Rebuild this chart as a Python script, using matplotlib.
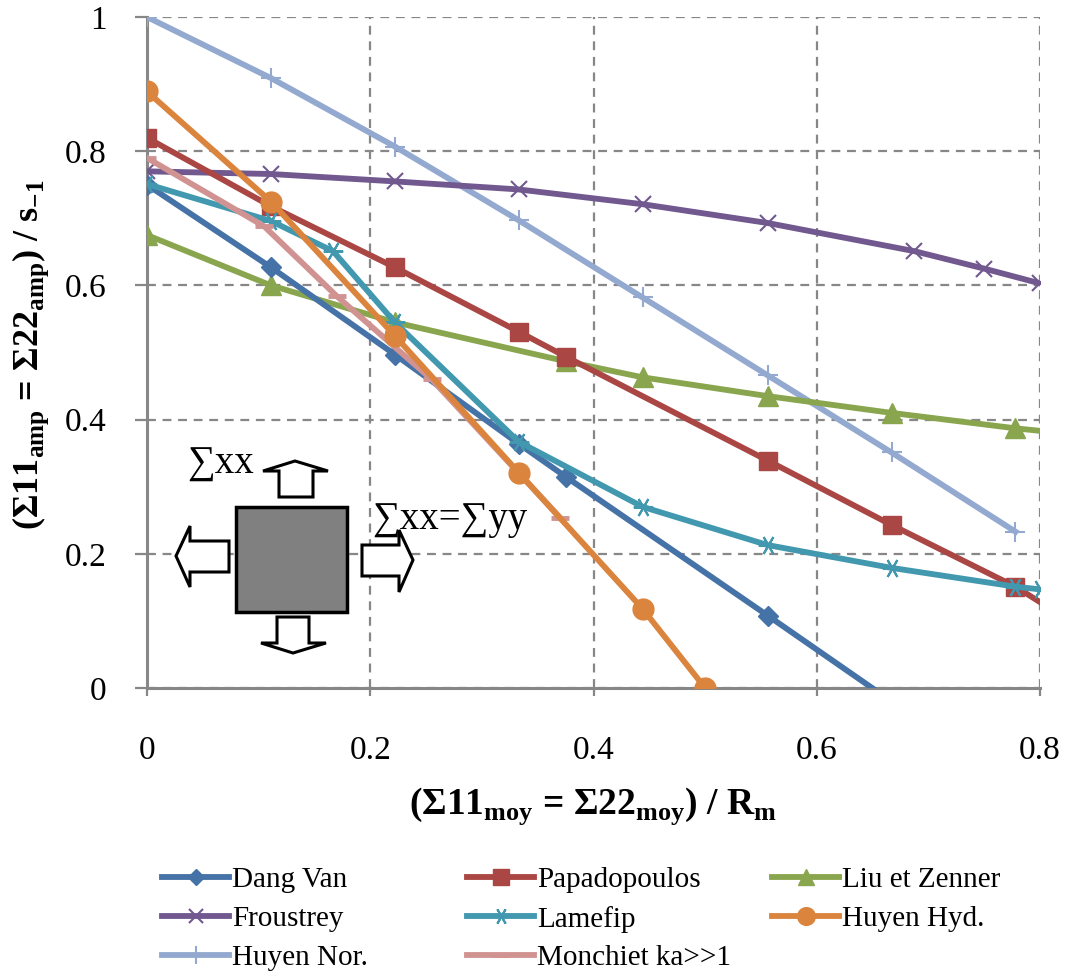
import matplotlib
matplotlib.use("Agg")
import matplotlib.pyplot as plt
from matplotlib.patches import Polygon, Rectangle
from matplotlib.lines import Line2D

plt.rcParams['font.family'] = ['Liberation Serif', 'DejaVu Serif']
plt.rcParams['mathtext.fontset'] = 'custom'
plt.rcParams['mathtext.rm'] = 'Liberation Serif'
plt.rcParams['mathtext.bf'] = 'Liberation Serif:bold'

# ---- data ----
dv_x = [0, 0.111, 0.222, 0.333, 0.375, 0.556, 0.667]
dv_y = [0.750, 0.627, 0.497, 0.364, 0.315, 0.108, -0.020]

pa_x = [0, 0.111, 0.222, 0.333, 0.375, 0.556, 0.667, 0.778, 0.889]
pa_y = [0.820, 0.718, 0.627, 0.531, 0.494, 0.339, 0.243, 0.151, 0.035]

lz_x = [0, 0.111, 0.222, 0.375, 0.444, 0.556, 0.667, 0.778, 0.889]
lz_y = [0.675, 0.600, 0.545, 0.487, 0.463, 0.435, 0.410, 0.387, 0.368]

fr_x = [0, 0.111, 0.222, 0.333, 0.444, 0.556, 0.6875, 0.75, 0.8]
fr_y = [0.770, 0.766, 0.755, 0.743, 0.721, 0.693, 0.651, 0.625, 0.603]

la_x = [0, 0.111, 0.1667, 0.222, 0.333, 0.444, 0.556, 0.667, 0.778, 0.8]
la_y = [0.751, 0.696, 0.651, 0.545, 0.367, 0.270, 0.213, 0.179, 0.151, 0.147]

hh_x = [0, 0.111, 0.222, 0.333, 0.444, 0.5]
hh_y = [0.889, 0.725, 0.525, 0.321, 0.118, 0.0]

hn_x = [0, 0.111, 0.222, 0.333, 0.444, 0.556, 0.667, 0.778]
hn_y = [1.0, 0.909, 0.807, 0.697, 0.582, 0.466, 0.351, 0.233]

mo_x = [0, 0.105, 0.170, 0.255, 0.370]
mo_y = [0.790, 0.688, 0.584, 0.460, 0.254]

W, H = 1067, 973
fig = plt.figure(figsize=(W / 100, H / 100), dpi=100)
ax = fig.add_axes([147 / W, 1 - 688 / H, (1040 - 147) / W, (688 - 17) / H])

lw = 4.2
ax.plot(hn_x, hn_y, color='#93A9CF', lw=lw, marker='+', ms=15, mew=1.5, label='Huyen Nor.', zorder=3)
ax.plot(fr_x, fr_y, color='#71588F', lw=lw, marker='x', ms=12, mew=1.5, label='Froustrey', zorder=3)
ax.plot(lz_x, lz_y, color='#89A54E', lw=lw, marker='^', ms=14, label='Liu et Zenner', zorder=3)
ax.plot(pa_x, pa_y, color='#AA4643', lw=lw, marker='s', ms=13, label='Papadopoulos', zorder=3)
ax.plot(dv_x, dv_y, color='#4572A7', lw=lw, marker='D', ms=10, label='Dang Van', zorder=3)
ax.plot(la_x, la_y, color='#4198AF', lw=lw, marker=(6, 2, 90), ms=14, mew=1.5, label='Lamefip', zorder=3)
ax.plot(mo_x, mo_y, color='#D19392', lw=lw, marker='_', ms=13, mew=3.5, label='Monchiet ka>>1', zorder=3)
ax.plot(hh_x, hh_y, color='#DB843D', lw=lw, marker='o', ms=15, label='Huyen Hyd.', zorder=3)

ax.set_xlim(0, 0.8)
ax.set_ylim(0, 1)
ax.set_xticks([0, 0.2, 0.4, 0.6, 0.8])
ax.set_xticklabels(['0', '0.2', '0.4', '0.6', '0.8'])
ax.set_yticks([0, 0.2, 0.4, 0.6, 0.8, 1])
ax.set_yticklabels(['0', '0.2', '0.4', '0.6', '0.8', '1'])
ax.tick_params(axis='x', length=6, width=1.6, color='#878787', direction='out', pad=28, labelsize=24)
ax.tick_params(axis='y', length=9, width=1.6, color='#878787', direction='out', pad=20, labelsize=24)
ax.grid(True, color='#878787', ls=(0, (4, 3)), lw=1.6, zorder=0)
for s in ['top', 'right']:
    ax.spines[s].set_visible(False)
for s in ['left', 'bottom']:
    ax.spines[s].set_color('#878787')
    ax.spines[s].set_linewidth(2.2)
    ax.spines[s].set_zorder(2)

fig.text(593 / W, 1 - 806 / H,
         r'(Σ11$_{\mathbf{moy}}$ = Σ22$_{\mathbf{moy}}$) / R$_{\mathbf{m}}$',
         ha='center', va='center', fontsize=27, fontweight='bold')
fig.text(31 / W, 1 - 355 / H,
         r'(Σ11$_{\mathbf{amp}}$ = Σ22$_{\mathbf{amp}}$) / s$_{\mathbf{-1}}$',
         ha='center', va='center', rotation=90, fontsize=26, fontweight='bold')


# inset sketch, in pixel coords of the picture
def px(pts):
    return [(x / W, 1 - y / H) for x, y in pts]


fig.add_artist(Rectangle((236 / W, 1 - 612 / H), (347 - 236) / W, (612 - 507) / H,
                         transform=fig.transFigure, fc='#808080', ec='black', lw=2.5))
arrows = [
    [(279, 497), (279, 471), (263, 471), (295, 461), (328, 471), (313, 471), (313, 497)],
    [(277, 617), (277, 643), (261, 643), (293, 653), (326, 643), (309, 643), (309, 617)],
    [(229, 541), (190, 541), (190, 526), (176, 556), (190, 587), (190, 572), (229, 572)],
    [(362, 545), (399, 545), (399, 530), (413, 560), (399, 592), (399, 576), (362, 576)],
]
for a in arrows:
    fig.add_artist(Polygon(px(a), closed=True, transform=fig.transFigure,
                           fc='white', ec='black', lw=2.2))
fig.text(187 / W, 1 - 464 / H, '∑xx', fontsize=28, ha='left', va='center')
fig.text(372 / W, 1 - 520 / H, '∑xx=∑yy', fontsize=28, ha='left', va='center')

# legend, three columns placed one by one
h = {l.get_label(): l for l in ax.get_lines()}
cols = [(['Dang Van', 'Froustrey', 'Huyen Nor.'], 162),
        (['Papadopoulos', 'Lamefip', 'Monchiet ka>>1'], 467),
        (['Liu et Zenner', 'Huyen Hyd.'], 772)]
for names, x0 in cols:
    hs = []
    for n in names:
        l = h[n]
        hs.append(Line2D([], [], color=l.get_color(), lw=l.get_linewidth(),
                         marker=l.get_marker(), ms=l.get_markersize() * 0.85,
                         mew=l.get_markeredgewidth()))
    fig.legend(hs, names, loc='upper left', bbox_to_anchor=(x0 / W, 1 - 867 / H),
               frameon=False, fontsize=21, handlelength=2.3, handletextpad=0.1,
               labelspacing=0.42, borderaxespad=0, borderpad=0)

fig.savefig('out.png', dpi=100)
